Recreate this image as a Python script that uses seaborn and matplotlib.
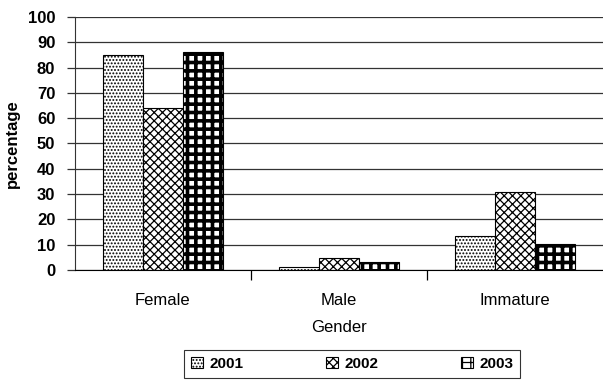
import matplotlib
matplotlib.use("Agg")
import matplotlib.pyplot as plt
import seaborn as sns
import pandas as pd

# values
categories = ["Female", "Male", "Immature"]
years = ["2001", "2002", "2003"]
pct_2001 = [85, 1, 13.5]
pct_2002 = [64, 4.6, 31]
pct_2003 = [86, 3.2, 10.3]

df = pd.DataFrame({
    "Gender": categories * 3,
    "Year": [y for y in years for _ in categories],
    "percentage": pct_2001 + pct_2002 + pct_2003,
})

sns.set_style("white")
plt.rcParams["font.family"] = ["Liberation Sans", "DejaVu Sans"]
plt.rcParams["hatch.linewidth"] = 0.9
for k in ["text.color", "axes.labelcolor", "xtick.color", "ytick.color"]:
    plt.rcParams[k] = "black"

fig = plt.figure(figsize=(6.03, 3.84), dpi=100)
ax = fig.add_axes([0.124, 0.297, 0.876, 0.659])

sns.barplot(data=df, x="Gender", y="percentage", hue="Year", order=categories,
            hue_order=years, width=0.68, gap=0, ax=ax, legend=False,
            edgecolor="black", linewidth=0.8)

hatches = [".....", "xxxx", "++"]
for cont, h in zip(ax.containers, hatches):
    for bar in cont:
        bar.set_facecolor("white")
        bar.set_hatch(h)
        bar.set_edgecolor("black")
        if h == "++":
            bar.set_hatch_linewidth(2.6)

ax.set_ylim(0, 100)
ax.set_xlim(-0.5, 2.5)
ax.set_yticks(range(0, 101, 10))
ax.yaxis.grid(True, color="#333333", linewidth=0.9)
ax.set_axisbelow(True)
for s in ["top", "right"]:
    ax.spines[s].set_visible(False)
ax.spines["left"].set_color("#333333")
ax.spines["bottom"].set_color("black")

ax.tick_params(axis="y", left=True, length=6, width=0.9, color="#333333",
               labelsize=12, pad=8)
for lbl in ax.get_yticklabels():
    lbl.set_fontweight("bold")
ax.tick_params(axis="x", bottom=False, labelsize=12, pad=13)
ax.set_xticks([0.5, 1.5], minor=True)
ax.tick_params(axis="x", which="minor", bottom=True, length=7, width=0.9, color="black")

ax.set_ylabel("percentage", fontsize=12, fontweight="bold", labelpad=6)
ax.set_xlabel("Gender", fontsize=12, labelpad=9)

leg = ax.legend(ax.containers, years, loc="upper center", bbox_to_anchor=(0.525, -0.285),
                ncol=3, frameon=True, fancybox=False, edgecolor="black",
                fontsize=11, columnspacing=5.4, handlelength=0.8, handleheight=0.8,
                borderpad=0.45, handletextpad=0.4)
leg.get_frame().set_linewidth(0.8)
for t in leg.get_texts():
    t.set_fontweight("bold")

fig.savefig("out.png", dpi=100)
